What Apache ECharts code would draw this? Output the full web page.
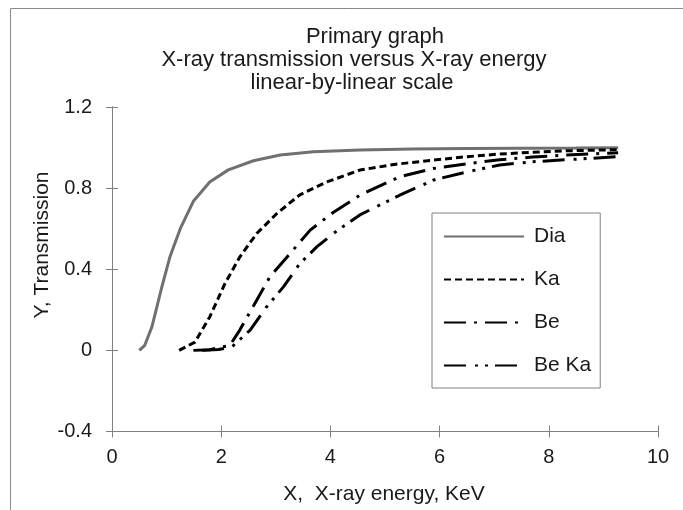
<!DOCTYPE html>
<html>
<head>
<meta charset="utf-8">
<script src="https://cdn.jsdelivr.net/npm/echarts@6/dist/echarts.min.js"></script>
<style>
html,body{margin:0;padding:0;background:#fff;}
#chart{width:683px;height:510px;}
</style>
</head>
<body>
<div id="chart"></div>
<script>
// ---- data ----
var titleLines = ['Primary graph', 'X-ray transmission versus X-ray energy', 'linear-by-linear scale'];
var xAxisTitle = 'X,  X-ray energy, KeV';
var yAxisTitle = 'Y, Transmission';
var seriesNames = ['Dia', 'Ka', 'Be', 'Be Ka'];

var diaX = [0.50, 0.60, 0.73, 0.91, 1.06, 1.25, 1.49, 1.79, 2.13, 2.59, 3.08, 3.69, 4.54, 5.5, 6.5, 7.5, 8.5, 9.27];
var diaY = [0.00, 0.025, 0.115, 0.31, 0.46, 0.60, 0.735, 0.83, 0.89, 0.935, 0.963, 0.979, 0.988, 0.993, 0.995, 0.997, 0.998, 0.999];

var kaX = [1.23, 1.52, 1.79, 2.07, 2.34, 2.65, 3.02, 3.44, 3.93, 4.54, 5.2, 5.89, 6.5, 7.1, 7.7, 8.33, 9.27];
var kaY = [0.00, 0.041, 0.165, 0.33, 0.46, 0.576, 0.675, 0.767, 0.83, 0.889, 0.918, 0.938, 0.955, 0.968, 0.977, 0.984, 0.99];

var beX = [1.49, 1.79, 2.16, 2.34, 2.65, 2.89, 3.26, 3.63, 4.05, 4.54, 5.27, 5.89, 6.5, 7.1, 7.7, 8.33, 9.27];
var beY = [0.00, 0.003, 0.025, 0.10, 0.247, 0.362, 0.477, 0.593, 0.68, 0.765, 0.856, 0.897, 0.92, 0.94, 0.953, 0.963, 0.975];

var beKaX = [1.65, 1.95, 2.19, 2.53, 2.83, 3.14, 3.44, 3.75, 4.12, 4.54, 5.27, 5.89, 6.5, 7.1, 7.7, 8.33, 9.27];
var beKaY = [0.00, 0.004, 0.016, 0.10, 0.214, 0.313, 0.428, 0.51, 0.59, 0.668, 0.765, 0.84, 0.88, 0.914, 0.93, 0.94, 0.955];

var xTicks = {min: 0, max: 10, interval: 2};
var yTicks = {min: -0.4, max: 1.2, interval: 0.4};

function pairs(xs, ys) { return xs.map(function (x, i) { return [x, ys[i]]; }); }

var FONT = '"Liberation Sans", Arial, sans-serif';
var TXT = '#1a1a1a';
var AX = '#808080';

var chart = echarts.init(document.getElementById('chart'), null, {renderer: 'canvas'});

function xAxisDef(inside, showLabel) {
  return {
    type: 'value', position: 'bottom', min: xTicks.min, max: xTicks.max, interval: xTicks.interval,
    axisLine: {show: true, onZero: false, lineStyle: {color: AX, width: 1}},
    axisTick: {show: true, inside: inside, length: 6, lineStyle: {color: AX, width: 1}},
    axisLabel: {show: showLabel, margin: 16, color: TXT, fontSize: 20, fontFamily: FONT},
    splitLine: {show: false}
  };
}
function yAxisDef(inside, showLabel) {
  return {
    type: 'value', position: 'left', min: yTicks.min, max: yTicks.max, interval: yTicks.interval,
    axisLine: {show: true, onZero: false, lineStyle: {color: AX, width: 1}},
    axisTick: {show: true, inside: inside, length: 6, lineStyle: {color: AX, width: 1}},
    axisLabel: {show: showLabel, margin: 20, color: TXT, fontSize: 20, fontFamily: FONT,
      formatter: function (v) { return (Math.round(v * 10) / 10).toString(); }},
    splitLine: {show: false}
  };
}

var styles = [
  {color: '#707070', type: 'solid'},
  {color: '#000000', type: [7, 4]},
  {color: '#000000', type: [22, 8, 3, 8]},
  {color: '#000000', type: [22, 9, 3, 7, 3, 7]}
];
var datas = [pairs(diaX, diaY), pairs(kaX, kaY), pairs(beX, beY), pairs(beKaX, beKaY)];

var series = seriesNames.map(function (n, i) {
  return {
    name: n, type: 'line', xAxisIndex: 0, yAxisIndex: 0, data: datas[i],
    symbol: 'none', smooth: false, animation: false,
    lineStyle: {color: styles[i].color, width: 3, type: styles[i].type, cap: 'butt'},
    itemStyle: {color: styles[i].color}
  };
});

var graphics = [
  {type: 'rect', silent: true, z: -1, shape: {x: 10.5, y: 8.5, width: 800, height: 600},
   style: {fill: 'none', stroke: '#8a8a8a', lineWidth: 1}},
  {type: 'text', x: 375, y: 37, style: {text: titleLines[0], font: '22px ' + FONT, fill: TXT, textAlign: 'center', textVerticalAlign: 'middle'}},
  {type: 'text', x: 354, y: 60, style: {text: titleLines[1], font: '22px ' + FONT, fill: TXT, textAlign: 'center', textVerticalAlign: 'middle'}},
  {type: 'text', x: 352, y: 83, style: {text: titleLines[2], font: '22px ' + FONT, fill: TXT, textAlign: 'center', textVerticalAlign: 'middle'}},
  {type: 'text', x: 384, y: 494, style: {text: xAxisTitle, font: '21px ' + FONT, fill: TXT, textAlign: 'center', textVerticalAlign: 'middle'}},
  {type: 'text', x: 42, y: 245, rotation: Math.PI / 2, style: {text: yAxisTitle, font: '21px ' + FONT, fill: TXT, textAlign: 'center', textVerticalAlign: 'middle'}}
];

chart.setOption({
  animation: false,
  backgroundColor: '#ffffff',
  grid: {left: 112, right: 25, top: 107, bottom: 78.5, containLabel: false},
  xAxis: [xAxisDef(false, true), xAxisDef(true, false)],
  yAxis: [yAxisDef(false, true), yAxisDef(true, false)],
  legend: {
    show: true, orient: 'vertical', left: 432, top: 213,
    padding: [13, 9, 12, 11], itemGap: 22, itemWidth: 80, itemHeight: 14,
    borderColor: '#808080', borderWidth: 1, backgroundColor: '#ffffff',
    itemStyle: {opacity: 0},
    textStyle: {color: TXT, fontSize: 21, fontFamily: FONT, padding: [0, 0, 0, 5]},
    data: seriesNames
  },
  graphic: graphics,
  series: series
});
</script>
</body>
</html>
